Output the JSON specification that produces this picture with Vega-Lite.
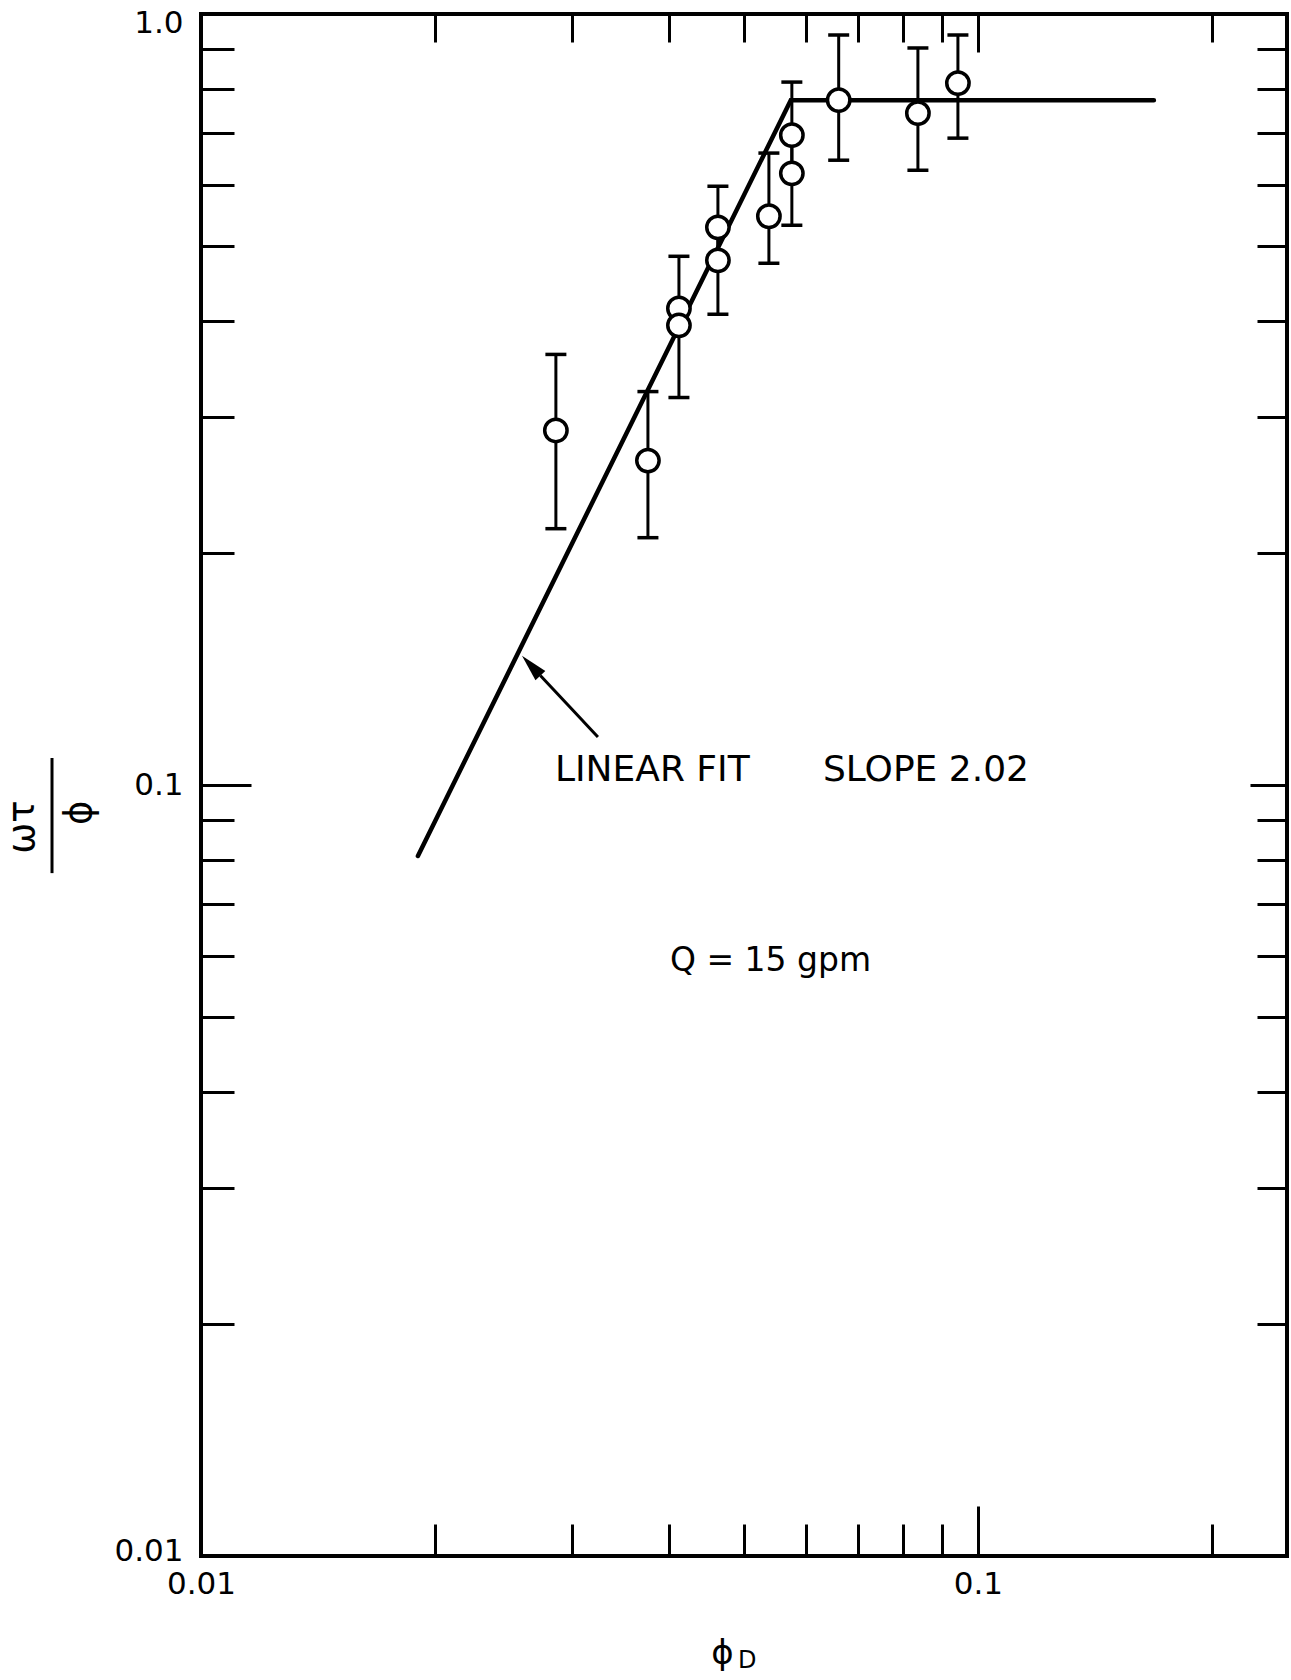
{
  "$schema": "https://vega.github.io/schema/vega-lite/v6.json",
  "width": 1086,
  "height": 1542,
  "autosize": {"type": "none"},
  "padding": {"left": 201, "top": 14, "right": 4, "bottom": 124},
  "background": "white",
  "config": {
    "view": {"stroke": "black", "strokeWidth": 4},
    "font": "DejaVu Sans",
    "axis": {
      "grid": false,
      "domain": false,
      "tickColor": "black",
      "tickWidth": 3,
      "labelColor": "black",
      "labelFont": "DejaVu Sans",
      "labelFontSize": 31,
      "titleColor": "black",
      "titleFont": "DejaVu Sans",
      "titleFontWeight": "normal",
      "labelFlush": false,
      "labelOverlap": false
    }
  },
  "datasets": {
    "fit": [
      {"phi_D": 0.01902, "ratio": 0.0809},
      {"phi_D": 0.05744, "ratio": 0.773},
      {"phi_D": 0.1685, "ratio": 0.773}
    ],
    "points": [
      {"phi_D": 0.02863, "ratio": 0.2883, "lo": 0.2150, "hi": 0.3618},
      {"phi_D": 0.03761, "ratio": 0.2635, "lo": 0.2093, "hi": 0.3238},
      {"phi_D": 0.04123, "ratio": 0.4150, "lo": 0.3946, "hi": 0.4850},
      {"phi_D": 0.04123, "ratio": 0.3946, "lo": 0.3181, "hi": 0.4150},
      {"phi_D": 0.04628, "ratio": 0.5288, "lo": 0.4792, "hi": 0.5977},
      {"phi_D": 0.04628, "ratio": 0.4792, "lo": 0.4078, "hi": 0.5288},
      {"phi_D": 0.05383, "ratio": 0.5466, "lo": 0.4750, "hi": 0.6601},
      {"phi_D": 0.05762, "ratio": 0.6964, "lo": 0.6214, "hi": 0.8160},
      {"phi_D": 0.05762, "ratio": 0.6214, "lo": 0.5321, "hi": 0.6964},
      {"phi_D": 0.0662, "ratio": 0.7731, "lo": 0.6462, "hi": 0.9392},
      {"phi_D": 0.08372, "ratio": 0.7437, "lo": 0.6271, "hi": 0.9035},
      {"phi_D": 0.09426, "ratio": 0.8136, "lo": 0.6902, "hi": 0.9392}
    ]
  },
  "layer": [
    {
      "layer": [
        {
          "data": {"name": "fit"},
          "mark": {"type": "line", "color": "black", "strokeWidth": 4.5, "strokeCap": "round"},
          "encoding": {
            "x": {
              "field": "phi_D",
              "type": "quantitative",
              "scale": {"type": "log", "domain": [0.01, 0.25], "nice": false},
              "axis": {
                "orient": "bottom",
                "values": [0.01, 0.02, 0.03, 0.04, 0.05, 0.06, 0.07, 0.08, 0.09, 0.1, 0.2],
                "labelExpr": "datum.value == 0.01 ? '0.01' : datum.value == 0.1 ? '0.1' : ''",
                "tickSize": {"condition": {"test": "datum.value == 0.01 || datum.value == 0.1", "value": -50}, "value": -32},
                "labelPadding": 63,
                "labelAlign": "center",
                "labelBaseline": "top",
                "title": "ϕ",
                "titleFontSize": 34,
                "titleX": 521,
                "titleY": 107,
                "titleBaseline": "alphabetic",
                "titleAlign": "center"
              }
            },
            "y": {
              "field": "ratio",
              "type": "quantitative",
              "scale": {"type": "log", "domain": [0.01, 1], "nice": false},
              "axis": {
                "orient": "left",
                "values": [0.01, 0.02, 0.03, 0.04, 0.05, 0.06, 0.07, 0.08, 0.09, 0.1, 0.2, 0.3, 0.4, 0.5, 0.6, 0.7, 0.8, 0.9, 1],
                "labelExpr": "datum.value == 1 ? '1.0' : datum.value == 0.1 ? '0.1' : datum.value == 0.01 ? '0.01' : ''",
                "tickSize": {"condition": {"test": "datum.value == 0.01 || datum.value == 0.1 || datum.value == 1", "value": -50}, "value": -33},
                "labelOffset": {"condition": [{"test": "datum.value == 1", "value": 9}, {"test": "datum.value == 0.01", "value": -5}], "value": 0},
                "labelPadding": 68,
                "labelAlign": "right",
                "labelBaseline": "middle",
                "title": ["ωτ", "ϕ"],
                "titleFontSize": 37,
                "titleAngle": 270,
                "titleAlign": "right",
                "titleBaseline": "bottom",
                "titleLineHeight": 57,
                "titleX": -160,
                "titleY": 786
              }
            }
          }
        },
        {
          "data": {"name": "points"},
          "mark": {"type": "rule", "color": "black", "strokeWidth": 3},
          "encoding": {
            "x": {"field": "phi_D", "type": "quantitative"},
            "y": {"field": "lo", "type": "quantitative"},
            "y2": {"field": "hi"}
          }
        },
        {
          "data": {"name": "points"},
          "mark": {"type": "tick", "orient": "horizontal", "color": "black", "size": 21, "thickness": 3.5, "opacity": 1},
          "encoding": {
            "x": {"field": "phi_D", "type": "quantitative"},
            "y": {"field": "hi", "type": "quantitative"}
          }
        },
        {
          "data": {"name": "points"},
          "mark": {"type": "tick", "orient": "horizontal", "color": "black", "size": 21, "thickness": 3.5, "opacity": 1},
          "encoding": {
            "x": {"field": "phi_D", "type": "quantitative"},
            "y": {"field": "lo", "type": "quantitative"}
          }
        },
        {
          "data": {"name": "points"},
          "mark": {"type": "point", "shape": "circle", "filled": true, "fill": "white", "stroke": "black", "strokeWidth": 3.5, "size": 500, "opacity": 1},
          "encoding": {
            "x": {"field": "phi_D", "type": "quantitative"},
            "y": {"field": "ratio", "type": "quantitative"}
          }
        },
        {
          "data": {"values": [{}]},
          "mark": {"type": "text", "text": "LINEAR FIT", "font": "DejaVu Sans", "fontSize": 36, "align": "left", "baseline": "alphabetic", "color": "black"},
          "encoding": {
            "x": {"datum": 0.02855, "type": "quantitative"},
            "y": {"datum": 0.1012, "type": "quantitative"}
          }
        },
        {
          "data": {"values": [{}]},
          "mark": {"type": "text", "text": "SLOPE 2.02", "font": "DejaVu Sans", "fontSize": 36, "align": "left", "baseline": "alphabetic", "color": "black"},
          "encoding": {
            "x": {"datum": 0.06318, "type": "quantitative"},
            "y": {"datum": 0.1012, "type": "quantitative"}
          }
        },
        {
          "data": {"values": [{}]},
          "mark": {"type": "text", "text": "Q = 15 gpm", "font": "DejaVu Sans", "fontSize": 33, "align": "left", "baseline": "alphabetic", "color": "black"},
          "encoding": {
            "x": {"datum": 0.04015, "type": "quantitative"},
            "y": {"datum": 0.05733, "type": "quantitative"}
          }
        },
        {
          "data": {"values": [{}]},
          "mark": {"type": "rule", "color": "black", "strokeWidth": 3},
          "encoding": {
            "x": {"datum": 0.03243, "type": "quantitative"},
            "y": {"datum": 0.1154, "type": "quantitative"},
            "x2": {"datum": 0.02734},
            "y2": {"datum": 0.1387}
          }
        },
        {
          "data": {"values": [{}]},
          "mark": {"type": "point", "shape": "M0,-1L-0.5,1L0.5,1Z", "filled": true, "color": "black", "size": 729, "angle": 317, "opacity": 1},
          "encoding": {
            "x": {"datum": 0.02661, "type": "quantitative"},
            "y": {"datum": 0.1428, "type": "quantitative"}
          }
        },
        {
          "data": {"values": [{}]},
          "mark": {"type": "rule", "color": "black", "strokeWidth": 3},
          "encoding": {
            "x": {"datum": 0.00643, "type": "quantitative"},
            "y": {"datum": 0.1084, "type": "quantitative"},
            "y2": {"datum": 0.07686}
          }
        },
        {
          "data": {"values": [{}]},
          "mark": {"type": "text", "text": "D", "font": "DejaVu Sans", "fontSize": 24, "align": "center", "baseline": "alphabetic", "color": "black"},
          "encoding": {
            "x": {"datum": 0.0505, "type": "quantitative"},
            "y": {"datum": 0.00716, "type": "quantitative"}
          }
        }
      ]
    },
    {
      "data": {"name": "fit"},
      "mark": {"type": "point", "opacity": 0},
      "encoding": {
        "x": {
          "field": "phi_D",
          "type": "quantitative",
          "scale": {"type": "log", "domain": [0.01, 0.25], "nice": false},
          "axis": {
            "orient": "top",
            "values": [0.01, 0.02, 0.03, 0.04, 0.05, 0.06, 0.07, 0.08, 0.09, 0.1, 0.2],
            "labels": false,
            "title": null,
            "tickSize": {"condition": {"test": "datum.value == 0.1", "value": -38}, "value": -28}
          }
        },
        "y": {
          "field": "ratio",
          "type": "quantitative",
          "scale": {"type": "log", "domain": [0.01, 1], "nice": false},
          "axis": {
            "orient": "right",
            "values": [0.01, 0.02, 0.03, 0.04, 0.05, 0.06, 0.07, 0.08, 0.09, 0.1, 0.2, 0.3, 0.4, 0.5, 0.6, 0.7, 0.8, 0.9, 1],
            "labels": false,
            "title": null,
            "tickSize": {"condition": {"test": "datum.value == 0.1", "value": -37}, "value": -30}
          }
        }
      }
    }
  ],
  "resolve": {"scale": {"x": "independent", "y": "independent"}}
}
